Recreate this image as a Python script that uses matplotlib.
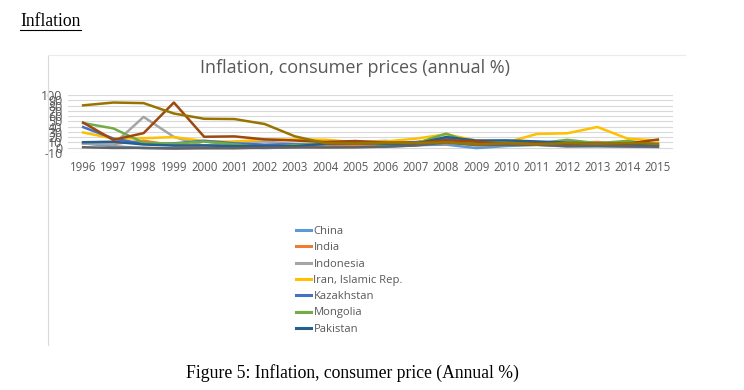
import numpy as np
import matplotlib.pyplot as plt
from matplotlib.lines import Line2D

# annual CPI inflation, %
years = [str(y) for y in range(1996, 2016)]
china = [8.3, 2.8, -0.8, -1.4, 0.3, 0.7, -0.7, 1.1, 3.8, 1.8, 1.6, 4.8, 5.9, -0.7, 3.3, 5.4, 2.6, 2.6, 2.0, 1.4]
india = [9.0, 7.2, 13.2, 4.7, 4.0, 3.8, 4.3, 3.8, 3.8, 4.2, 5.8, 6.4, 8.4, 10.9, 12.0, 8.9, 9.3, 10.9, 6.4, 4.9]
indonesia = [8.0, 6.2, 58.4, 20.5, 3.7, 11.5, 11.9, 6.8, 6.1, 10.5, 13.1, 6.4, 10.2, 4.4, 5.1, 5.4, 4.3, 6.4, 6.4, 6.4]
iran = [28.9, 17.4, 18.1, 20.1, 12.6, 11.4, 15.8, 15.6, 15.2, 10.4, 11.9, 17.2, 25.5, 13.5, 10.1, 26.1, 27.4, 39.3, 17.2, 13.7]
kazakhstan = [39.1, 17.4, 7.3, 8.3, 13.2, 8.4, 5.8, 6.4, 6.9, 7.6, 8.6, 10.8, 17.1, 7.3, 7.1, 8.4, 5.1, 5.8, 6.7, 6.7]
mongolia = [46.8, 36.6, 9.4, 7.6, 11.6, 6.3, 0.9, 5.1, 7.9, 12.5, 4.5, 8.2, 26.8, 6.3, 10.2, 7.7, 15.0, 8.6, 12.9, 5.9]
pakistan = [10.4, 11.4, 6.2, 4.1, 4.4, 3.1, 3.3, 2.9, 7.4, 9.1, 7.9, 7.6, 20.3, 13.6, 13.9, 11.9, 9.7, 7.7, 7.2, 2.5]
russia = [47.7, 14.8, 27.7, 85.7, 20.8, 21.5, 15.8, 13.7, 10.9, 12.7, 9.7, 9.0, 14.1, 11.7, 6.9, 8.4, 5.1, 6.8, 7.8, 15.5]
saudi = [0.9, -0.4, -0.2, -1.3, -1.1, -1.1, 0.2, 0.6, 0.4, 0.7, 2.2, 4.2, 9.9, 5.1, 5.3, 5.8, 2.9, 3.5, 2.7, 2.2]
turkey = [80.4, 85.7, 84.6, 64.9, 54.9, 54.4, 45.0, 21.6, 8.6, 8.2, 9.6, 8.8, 10.4, 6.3, 8.6, 6.5, 8.9, 7.5, 8.9, 7.7]

names = ['China', 'India', 'Indonesia', 'Iran, Islamic Rep.', 'Kazakhstan', 'Mongolia', 'Pakistan',
         'Russian Federation', 'Saudi Arabia', 'Turkey']
series = [china, india, indonesia, iran, kazakhstan, mongolia, pakistan, russia, saudi, turkey]
colors = ['#5B9BD5', '#ED7D31', '#A5A5A5', '#FFC000', '#4472C4', '#70AD47', '#255E91',
          '#9E480E', '#636363', '#997300']
n_legend = 7  # legend in the source is cut after Pakistan

plt.rcParams['axes.unicode_minus'] = False

W, H = 744, 390
fig = plt.figure(figsize=(W / 100, H / 100), dpi=100)
fig.patch.set_facecolor('white')

sans = ['Open Sans', 'DejaVu Sans']
grey = '#595959'

ax = fig.add_axes([68 / W, 1 - 153 / H, 605 / W, 58 / H])
x = np.arange(len(years))
handles = []
for vals, name, c in zip(series, names, colors):
    h, = ax.plot(x, vals, color=c, lw=1.8, label=name, solid_joinstyle='round')
    handles.append(h)

ax.set_xlim(-0.5, len(years) - 0.5)
ax.set_ylim(-10, 100)
ax.set_yticks(np.arange(-10, 101, 10))
ax.set_xticks(x)
ax.set_xticklabels(years)
ax.grid(axis='y', color='#D9D9D9', lw=0.8)
ax.set_axisbelow(True)
for s in ax.spines.values():
    s.set_visible(False)
ax.tick_params(length=0, colors=grey)
ax.tick_params(axis='x', pad=5.5, labelsize=8.3)
ax.tick_params(axis='y', pad=4, labelsize=9)
for lab in ax.get_xticklabels() + ax.get_yticklabels():
    lab.set_family(sans)

leg = ax.legend(handles=handles[:n_legend], loc='upper left',
                bbox_to_anchor=(296 / W, 1 - 226 / H), bbox_transform=fig.transFigure,
                frameon=False, borderpad=0, borderaxespad=0, handlelength=1.3,
                handletextpad=0.25, labelspacing=0.47,
                prop={'family': sans, 'size': 8.1}, labelcolor=grey)
for lh in leg.get_lines():
    lh.set_linewidth(2.2)

# chart frame (left + top edges only visible)
fig.add_artist(Line2D([48 / W, 48 / W], [1 - 55 / H, 1 - 345 / H], color='#D9D9D9', lw=0.8))
fig.add_artist(Line2D([48 / W, 685 / W], [1 - 55 / H, 1 - 55 / H], color='#EBEBEB', lw=0.8))

fig.text(355 / W, 1 - 68 / H, 'Inflation, consumer prices (annual %)', ha='center', va='center',
         color=grey, fontsize=13, family=sans)

serif = ['Liberation Serif', 'DejaVu Serif']
fig.text(20 / W, 1 - 21 / H, 'Inflation', ha='left', va='center', fontsize=12.7, family=serif, color='black')
fig.add_artist(Line2D([20 / W, 81 / W], [1 - 30 / H, 1 - 30 / H], color='black', lw=0.8))

fig.text(352 / W, 1 - 373 / H, 'Figure 5: Inflation, consumer price (Annual %)', ha='center', va='center',
         fontsize=12.7, family=serif, color='black')

fig.savefig('out.png', dpi=100, facecolor='white')
